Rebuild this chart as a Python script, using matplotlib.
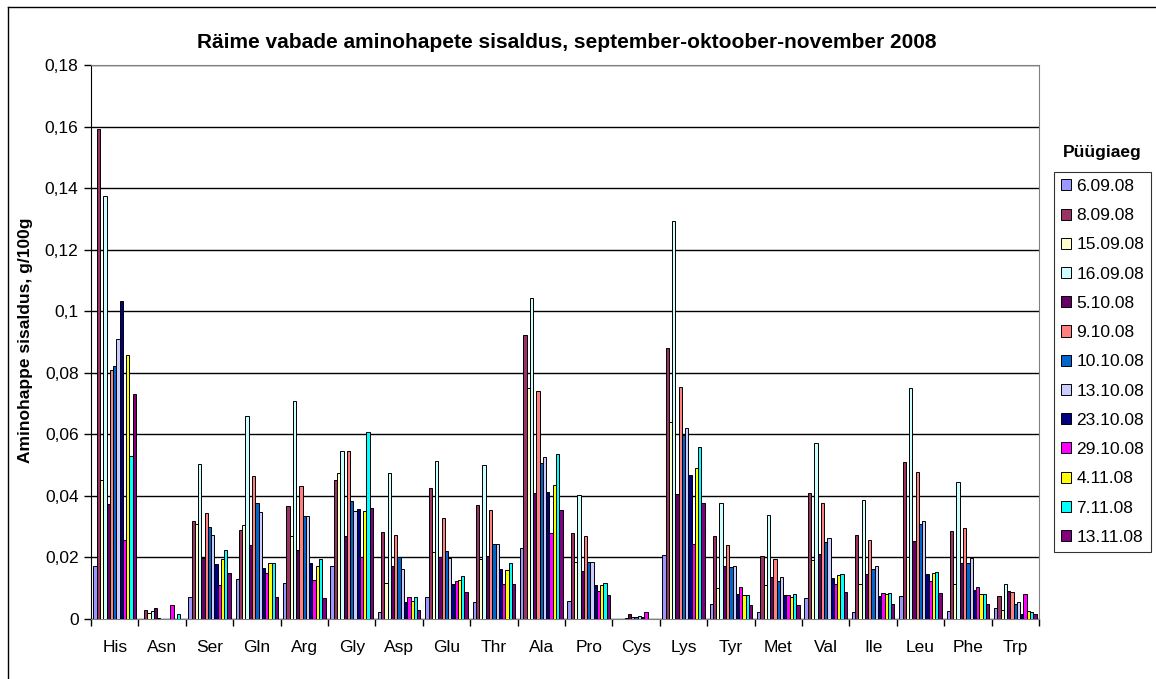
import matplotlib
matplotlib.use('Agg')
import matplotlib.pyplot as plt
from matplotlib.lines import Line2D
from matplotlib.patches import Patch
import numpy as np

plt.rcParams['font.family'] = ['Liberation Sans', 'DejaVu Sans']

categories = ['His', 'Asn', 'Ser', 'Gln', 'Arg', 'Gly', 'Asp', 'Glu', 'Thr', 'Ala',
              'Pro', 'Cys', 'Lys', 'Tyr', 'Met', 'Val', 'Ile', 'Leu', 'Phe', 'Trp']

dates = ['6.09.08', '8.09.08', '15.09.08', '16.09.08', '5.10.08', '9.10.08', '10.10.08',
         '13.10.08', '23.10.08', '29.10.08', '4.11.08', '7.11.08', '13.11.08']

colors = ['#9999FF', '#993366', '#FFFFCC', '#CCFFFF', '#660066', '#FF8080', '#0066CC',
          '#CCCCFF', '#000080', '#FF00FF', '#FFFF00', '#00FFFF', '#800080']

# one row per amino acid, columns follow the dates
his = [0.0172, 0.1592, 0.0453, 0.1373, 0.0373, 0.0808, 0.0822, 0.0909, 0.1032, 0.0257, 0.0858, 0.0530, 0.0731]
asn = [0.0, 0.0030, 0.0020, 0.0025, 0.0035, 0.0002, 0.0, 0.0, 0.0, 0.0045, 0.0, 0.0015, 0.0]
ser = [0.0071, 0.0317, 0.0308, 0.0503, 0.0198, 0.0343, 0.0298, 0.0272, 0.0180, 0.0112, 0.0195, 0.0225, 0.0151]
gln = [0.0130, 0.0290, 0.0304, 0.0659, 0.0240, 0.0464, 0.0376, 0.0349, 0.0166, 0.0148, 0.0183, 0.0183, 0.0071]
arg = [0.0117, 0.0367, 0.0269, 0.0709, 0.0223, 0.0431, 0.0335, 0.0335, 0.0182, 0.0128, 0.0172, 0.0196, 0.0068]
gly = [0.0173, 0.0451, 0.0473, 0.0545, 0.0269, 0.0545, 0.0382, 0.0351, 0.0356, 0.0201, 0.0350, 0.0608, 0.0360]
asp = [0.0023, 0.0282, 0.0118, 0.0473, 0.0173, 0.0273, 0.0201, 0.0164, 0.0055, 0.0072, 0.0060, 0.0072, 0.0028]
glu = [0.0072, 0.0427, 0.0218, 0.0514, 0.0201, 0.0328, 0.0222, 0.0198, 0.0115, 0.0122, 0.0128, 0.0141, 0.0087]
thr = [0.0054, 0.0369, 0.0196, 0.0500, 0.0204, 0.0353, 0.0245, 0.0245, 0.0164, 0.0113, 0.0160, 0.0182, 0.0113]
ala = [0.0232, 0.0922, 0.0751, 0.1042, 0.0410, 0.0741, 0.0508, 0.0527, 0.0414, 0.0278, 0.0437, 0.0537, 0.0353]
pro = [0.0059, 0.0278, 0.0185, 0.0404, 0.0156, 0.0269, 0.0185, 0.0185, 0.0110, 0.0091, 0.0110, 0.0117, 0.0077]
cys = [0.0, 0.0, 0.0, 0.0003, 0.0017, 0.0008, 0.0005, 0.0009, 0.0007, 0.0022, 0.0, 0.0, 0.0]
lys = [0.0208, 0.0881, 0.0641, 0.1294, 0.0405, 0.0754, 0.0597, 0.0622, 0.0468, 0.0245, 0.0492, 0.0559, 0.0378]
tyr = [0.0050, 0.0269, 0.0101, 0.0377, 0.0172, 0.0241, 0.0168, 0.0172, 0.0082, 0.0104, 0.0077, 0.0077, 0.0044]
met = [0.0023, 0.0204, 0.0110, 0.0337, 0.0137, 0.0196, 0.0122, 0.0137, 0.0077, 0.0077, 0.0072, 0.0082, 0.0044]
val = [0.0069, 0.0410, 0.0191, 0.0573, 0.0210, 0.0378, 0.0250, 0.0264, 0.0133, 0.0115, 0.0142, 0.0147, 0.0087]
ile = [0.0022, 0.0272, 0.0114, 0.0386, 0.0145, 0.0258, 0.0163, 0.0172, 0.0076, 0.0085, 0.0082, 0.0085, 0.0049]
leu = [0.0076, 0.0510, 0.0203, 0.0752, 0.0253, 0.0478, 0.0308, 0.0317, 0.0145, 0.0125, 0.0149, 0.0152, 0.0085]
phe = [0.0027, 0.0286, 0.0114, 0.0446, 0.0182, 0.0296, 0.0182, 0.0199, 0.0095, 0.0103, 0.0082, 0.0082, 0.0049]
trp = [0.0036, 0.0076, 0.0030, 0.0114, 0.0090, 0.0087, 0.0049, 0.0054, 0.0016, 0.0082, 0.0027, 0.0022, 0.0016]

values = np.array([his, asn, ser, gln, arg, gly, asp, glu, thr, ala,
                   pro, cys, lys, tyr, met, val, ile, leu, phe, trp])

yticks = [0, 0.02, 0.04, 0.06, 0.08, 0.1, 0.12, 0.14, 0.16, 0.18]
ytick_labels = ['0', '0,02', '0,04', '0,06', '0,08', '0,1', '0,12', '0,14', '0,16', '0,18']

W, H = 1156, 679
fig = plt.figure(figsize=(W / 100, H / 100), dpi=100)
ax = fig.add_axes([91 / W, 1 - 619 / H, (1039 - 91) / W, (619 - 65) / H])

n = len(dates)
bw = 1 / (n + 1.5)
x = np.arange(len(categories))
for i in range(n):
    ax.bar(x - 0.5 + 0.75 * bw + (i + 0.5) * bw, values[:, i], width=bw,
           color=colors[i], edgecolor='black', linewidth=0.7, zorder=3)

ax.set_xlim(-0.5, len(categories) - 0.5)
ax.set_ylim(0, 0.18)
ax.set_yticks(yticks)
ax.set_yticklabels(ytick_labels, fontsize=12.5)
ax.set_xticks(x)
ax.set_xticklabels(categories, fontsize=12.5)
ax.tick_params(axis='x', length=0, pad=15)
ax.set_xticks(np.arange(len(categories) + 1) - 0.5, minor=True)
ax.tick_params(axis='x', which='minor', length=5, color='black', width=1)
ax.tick_params(axis='y', length=5, width=1, pad=4)
ax.yaxis.grid(True, color='black', linewidth=1, zorder=0)
ax.set_axisbelow(True)
for s in ['top', 'right']:
    ax.spines[s].set_color('#808080')
ax.spines['left'].set_color('black')
ax.spines['bottom'].set_color('#808080')

fig.text(26 / W, 1 - 340 / H, 'Aminohappe sisaldus, g/100g', rotation=90,
         ha='center', va='center', fontsize=12.5, fontweight='bold')
fig.text(567 / W, 1 - 43 / H, 'Räime vabade aminohapete sisaldus, september-oktoober-november 2008',
         ha='center', va='center', fontsize=15, fontweight='bold')

# legend
handles = [Patch(facecolor=c, edgecolor='black', linewidth=0.7) for c in colors]
leg = fig.legend(handles, dates, loc='upper left', bbox_to_anchor=(1054 / W, 1 - 172 / H),
                 fontsize=12.5, frameon=True, fancybox=False, edgecolor='black',
                 handlelength=0.6, handleheight=0.6, handletextpad=0.3,
                 labelspacing=0.82, borderpad=0.4, borderaxespad=0)
leg.get_frame().set_linewidth(0.8)
fig.text(1102 / W, 1 - 152 / H, 'Püügiaeg', ha='center', va='center',
         fontsize=12.5, fontweight='bold')

# chart area border (left and top edges visible)
fig.add_artist(Line2D([8 / W, 8 / W], [-0.1, 1 - 7 / H], color='black', linewidth=1))
fig.add_artist(Line2D([8 / W, 1.1], [1 - 7 / H, 1 - 7 / H], color='black', linewidth=1))

fig.savefig('out.png', dpi=100)
